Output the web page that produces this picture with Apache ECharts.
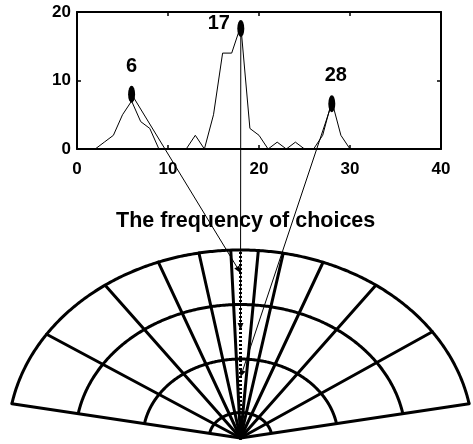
<!DOCTYPE html>
<html>
<head>
<meta charset="utf-8">
<script src="https://cdn.jsdelivr.net/npm/echarts@6/dist/echarts.min.js"></script>
<style>
  html, body { margin: 0; padding: 0; background: #fff; }
  #chart { width: 473px; height: 444px; }
</style>
</head>
<body>
<div id="chart"></div>
<script>
// Frequency of each choice (x = choice number, y = how often it was chosen)
const choiceX = [2, 3, 4, 5, 6, 7, 8, 9, 10, 11, 12, 13, 14, 15, 16, 17, 18, 19, 20, 21, 22, 23, 24, 25, 26, 27, 28, 29, 30];
const choiceFreq = [0, 1, 2, 5, 7, 4, 3, 0, 0, 0, 0, 2, 0, 5, 14, 14, 18, 3, 2, 0, 1, 0, 1, 0, 0, 2, 7, 2, 0];

// Highlighted peaks
const peakNames = ['6', '17', '28'];
const peakX = [6, 18, 28];
const peakY = [8, 17.6, 6.6];

// Where each peak lands on the fan's central axis (fraction of the fan radius)
const peakTargetR = [0.878, 0.574, 0.324];

// Axis ticks
const xTicks = [0, 10, 20, 30, 40];
const yTicks = [0, 10, 20];

// Fan layout: ring radii (fraction of outer radius) and spoke angles in degrees
const ringRadii = [0.135, 0.42, 0.71, 1];
const spokeAngles = [10.5, 34.4, 54.4, 69.2, 79.4, 85.6, 92.4, 100.3, 110.7, 125.6, 146.5, 169.5];

const FONT = "'Liberation Sans', Arial, Helvetica, sans-serif";
const fanFrom = spokeAngles[0];
const fanTo = spokeAngles[spokeAngles.length - 1];
const rad = d => d * Math.PI / 180;

// Label placement around each peak marker (pixels from the marker centre)
const peakLabelShift = [[0, -28], [-22, -5], [4, -28]];

const chart = echarts.init(document.getElementById('chart'), null, { renderer: 'canvas' });

const tickAxis = (pos, min, max, step, labels) => ({
  gridIndex: 0, type: 'value', position: pos, min: min, max: max, interval: step,
  axisLine: { show: true, onZero: false, lineStyle: { color: '#000', width: 2 } },
  axisTick: { show: true, inside: true, length: 4, lineStyle: { color: '#000', width: 1.5 } },
  axisLabel: labels ? labels : { show: false },
  splitLine: { show: false }
});

chart.setOption({
  animation: false,
  backgroundColor: '#fff',
  title: {
    text: 'The frequency of choices',
    left: 111, top: 205,
    textStyle: { fontFamily: FONT, fontWeight: 'bold', fontSize: 21.5, color: '#000' }
  },
  grid: [
    { left: 77, top: 12, width: 364, height: 137 },
    { left: 8, top: 250, width: 468, height: 188 }
  ],
  xAxis: [
    tickAxis('bottom', xTicks[0], xTicks[xTicks.length - 1], xTicks[1] - xTicks[0],
      { show: true, margin: 12, color: '#000', fontFamily: FONT, fontWeight: 'bold', fontSize: 17 }),
    tickAxis('top', xTicks[0], xTicks[xTicks.length - 1], xTicks[1] - xTicks[0], null),
    { gridIndex: 1, type: 'value', min: -1, max: 1, show: false }
  ],
  yAxis: [
    tickAxis('left', yTicks[0], yTicks[yTicks.length - 1], yTicks[1] - yTicks[0],
      { show: true, margin: 6, color: '#000', fontFamily: FONT, fontWeight: 'bold', fontSize: 17 }),
    tickAxis('right', yTicks[0], yTicks[yTicks.length - 1], yTicks[1] - yTicks[0], null),
    { gridIndex: 1, type: 'value', min: 0, max: 1, show: false }
  ],
  series: [
    {
      name: 'frequency',
      type: 'line',
      xAxisIndex: 0, yAxisIndex: 0,
      data: choiceX.map((x, i) => [x, choiceFreq[i]]),
      symbol: 'none',
      lineStyle: { color: '#000', width: 1 },
      z: 3
    },
    {
      name: 'peaks',
      type: 'scatter',
      xAxisIndex: 0, yAxisIndex: 0,
      symbol: 'circle',
      symbolSize: [7, 17],
      itemStyle: { color: '#000', opacity: 1 },
      data: peakX.map((x, i) => ({
        value: [x, peakY[i]],
        label: { offset: peakLabelShift[i] }
      })),
      label: {
        show: true, position: 'inside',
        formatter: p => peakNames[p.dataIndex],
        color: '#000', fontFamily: FONT, fontWeight: 'bold', fontSize: 20
      },
      emphasis: { disabled: true },
      z: 5
    },
    {
      name: 'rings',
      type: 'custom',
      xAxisIndex: 2, yAxisIndex: 2,
      data: ringRadii.map(r => [r]),
      renderItem: (params, api) => {
        const r = api.value(0);
        const pts = [];
        for (let a = fanFrom; a <= fanTo + 1e-6; a += 0.5) {
          pts.push(api.coord([r * Math.cos(rad(a)), r * Math.sin(rad(a))]));
        }
        return { type: 'polyline', shape: { points: pts },
          style: { stroke: '#000', lineWidth: 3, fill: null } };
      },
      z: 2
    },
    {
      name: 'spokes',
      type: 'custom',
      xAxisIndex: 2, yAxisIndex: 2,
      data: spokeAngles.map(a => [a]),
      renderItem: (params, api) => {
        const a = rad(api.value(0));
        const p0 = api.coord([0, 0]);
        const p1 = api.coord([Math.cos(a), Math.sin(a)]);
        return { type: 'line', shape: { x1: p0[0], y1: p0[1], x2: p1[0], y2: p1[1] },
          style: { stroke: '#000', lineWidth: 3, lineCap: 'round' } };
      },
      z: 2
    },
    {
      name: 'central axis',
      type: 'line',
      xAxisIndex: 2, yAxisIndex: 2,
      data: [[0, 0], [0, 1]],
      symbol: 'none',
      lineStyle: { color: '#000', width: 3, type: [2, 2] },
      z: 2
    }
  ]
});

// Arrows from each peak down to its point on the fan's central axis
const graphics = [];
peakX.forEach((x, i) => {
  const from = chart.convertToPixel({ gridIndex: 0 }, [x, peakY[i]]);
  const to = chart.convertToPixel({ gridIndex: 1 }, [0, peakTargetR[i]]);
  const dx = to[0] - from[0], dy = to[1] - from[1];
  const len = Math.hypot(dx, dy);
  const ux = dx / len, uy = dy / len;
  const headLen = 7, headHalf = 3;
  const bx = to[0] - ux * headLen, by = to[1] - uy * headLen;
  graphics.push({
    type: 'line', z: 10,
    shape: { x1: from[0], y1: from[1], x2: bx, y2: by },
    style: { stroke: '#000', lineWidth: 1 }
  });
  graphics.push({
    type: 'polygon', z: 10,
    shape: { points: [to, [bx - uy * headHalf, by + ux * headHalf], [bx + uy * headHalf, by - ux * headHalf]] },
    style: { fill: '#000' }
  });
});
chart.setOption({ graphic: graphics });
</script>
</body>
</html>
